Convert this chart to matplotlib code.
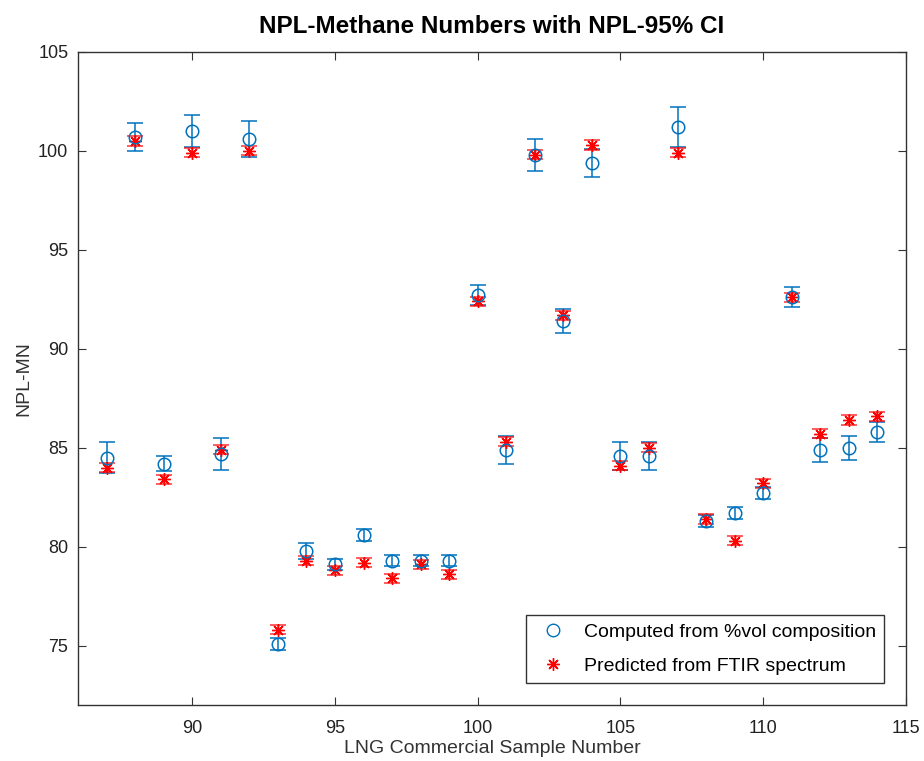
import matplotlib
matplotlib.use("Agg")
import matplotlib.pyplot as plt
from matplotlib.lines import Line2D
import numpy as np

plt.rcParams['font.family'] = ['Liberation Sans', 'DejaVu Sans']

# Sample numbers (87..114)
samples = np.arange(87, 115)

# Methane numbers computed from %vol composition, and their 95% CI half-widths
mn_comp = [84.5, 100.7, 84.2, 101.0, 84.7, 100.6, 75.1, 79.8, 79.1, 80.6,
           79.3, 79.3, 79.3, 92.7, 84.9, 99.8, 91.4, 99.4, 84.6, 84.6,
           101.2, 81.3, 81.7, 82.7, 92.6, 84.9, 85.0, 85.8]
ci_comp = [0.8, 0.7, 0.4, 0.8, 0.8, 0.9, 0.3, 0.4, 0.3, 0.3,
           0.3, 0.3, 0.3, 0.5, 0.7, 0.8, 0.6, 0.7, 0.7, 0.7,
           1.0, 0.3, 0.3, 0.3, 0.5, 0.6, 0.6, 0.5]

# Methane numbers predicted from the FTIR spectrum
mn_ftir = [84.0, 100.5, 83.4, 99.9, 84.9, 100.0, 75.8, 79.3, 78.8, 79.2,
           78.4, 79.1, 78.6, 92.4, 85.3, 99.8, 91.7, 100.3, 84.1, 85.0,
           99.9, 81.4, 80.3, 83.2, 92.6, 85.7, 86.4, 86.6]
ci_ftir = [0.23] * len(samples)

blue = '#0072BD'
red = '#FF0000'
asterisk = (8, 2, 0)  # 8-spoke asterisk

fig = plt.figure(figsize=(9.24, 7.61), dpi=100)
ax = fig.add_axes([0.0844, 0.0736, 0.8961, 0.8581])

ax.errorbar(samples, mn_comp, yerr=ci_comp, fmt='o', color=blue,
            markerfacecolor='none', markersize=9, markeredgewidth=1.1,
            elinewidth=1.1, capsize=5.5, capthick=1.1)
ax.errorbar(samples, mn_ftir, yerr=ci_ftir, fmt='none', ecolor=red, alpha=0.8,
            elinewidth=1.1, capsize=5.5, capthick=1.1)
ax.plot(samples, mn_ftir, linestyle='none', marker=asterisk, color=red,
        markersize=9, markeredgewidth=1.0)

ax.set_xlim(86, 115)
ax.set_ylim(72, 105)
ax.set_xticks(np.arange(90, 116, 5))
ax.set_yticks(np.arange(75, 106, 5))
ax.tick_params(direction='in', top=True, right=True, length=6, pad=7,
               labelsize=13, color='#333333', labelcolor='#222222')
ax.tick_params(axis='x', pad=11)
for s in ax.spines.values():
    s.set_color('#333333')
    s.set_linewidth(1.0)

ax.set_xlabel('LNG Commercial Sample Number', fontsize=14, color='#333333',
              labelpad=2)
ax.set_ylabel('NPL-MN', fontsize=14, color='#333333', labelpad=4)
ax.set_title('NPL-Methane Numbers with NPL-95% CI', fontsize=17.5,
             fontweight='bold', pad=14)

handles = [
    Line2D([], [], linestyle='none', marker='o', markerfacecolor='none',
           markeredgecolor=blue, markersize=9),
    Line2D([], [], linestyle='none', marker=asterisk, color=red,
           markersize=9),
]
ax.legend(handles, ['Computed from %vol composition', 'Predicted from FTIR spectrum'],
          loc='lower right', bbox_to_anchor=(0.9855, 0.0195), fontsize=14,
          fancybox=False, edgecolor='#333333', framealpha=1,
          handletextpad=0.6, borderpad=0.4, labelspacing=0.85)

fig.savefig('out.png', dpi=100)
